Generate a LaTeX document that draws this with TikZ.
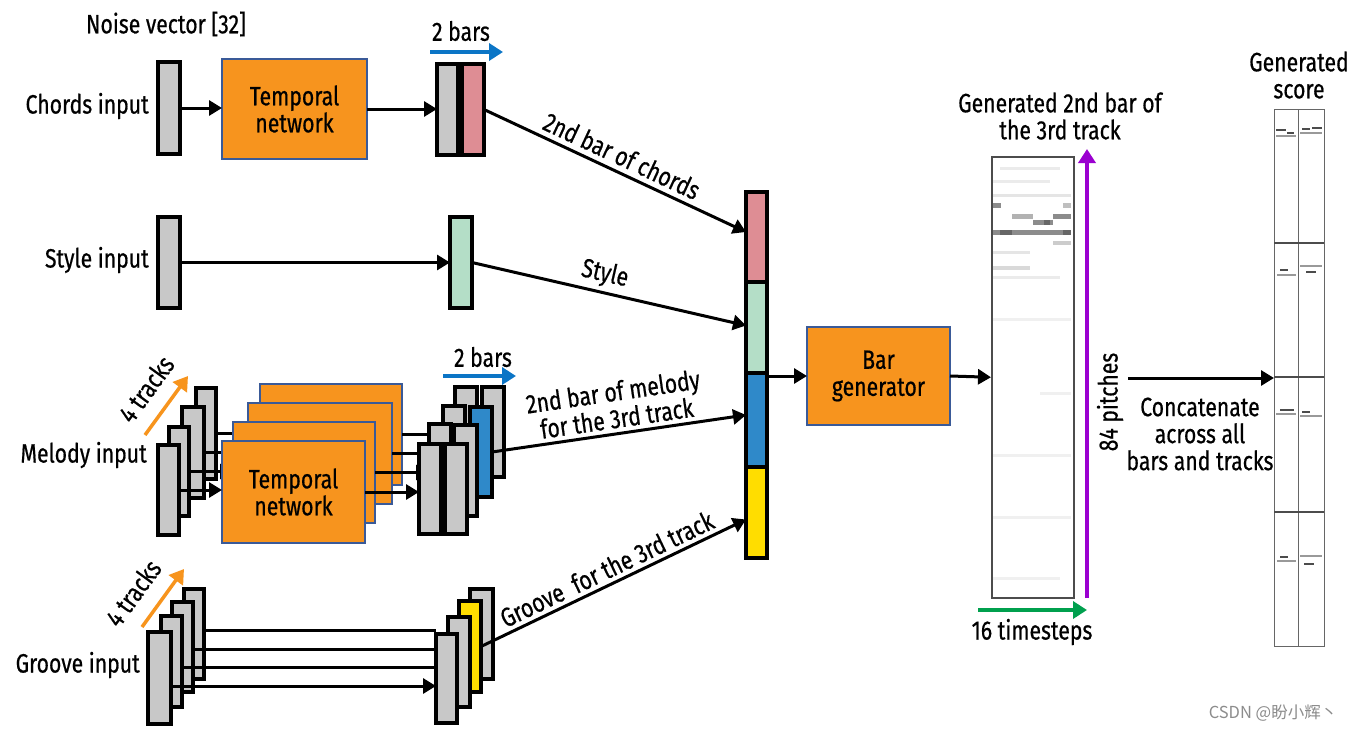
\documentclass[tikz,border=0pt]{standalone}
\usepackage{fontspec}
\setmainfont{Fira Sans}[FakeStretch=0.8,FakeBold=0.6]
\newfontfamily\cjkfont{Noto Sans CJK SC}
\usetikzlibrary{arrows.meta,calc}
\definecolor{orangeF}{HTML}{F7941E}
\definecolor{blueB}{HTML}{3A5A98}
\definecolor{boxgray}{HTML}{C8C8C8}
\definecolor{pinkF}{HTML}{DE8D94}
\definecolor{greenF}{HTML}{B4DEC7}
\definecolor{blueF}{HTML}{2F89C9}
\definecolor{yellowF}{HTML}{FFDD00}
\definecolor{arrblue}{HTML}{0B75C6}
\definecolor{purp}{HTML}{9B00D0}
\definecolor{grnarr}{HTML}{00A04E}
\definecolor{orgarr}{HTML}{F7941D}
\newcommand\mkbox[6]{\node[#1, minimum width={(#5-#3)*1pt}, minimum height={(#6-#4)*1pt}] (#2) at (#3,#4) {};}
\newcommand\mkboxt[7]{\node[#1, minimum width={(#5-#3)*1pt}, minimum height={(#6-#4)*1pt}] (#2) at (#3,#4) {#7};}
\tikzset{
  txt/.style={font=\fontsize{26.5}{27}\selectfont, align=center, inner sep=2pt},
  ln/.style={line width=3pt},
  arr/.style={line width=3pt, -{Triangle[length=13pt,width=15pt]}},
  bx/.style={draw=black, line width=3.5pt, anchor=north west, inner sep=0pt, outer sep=0pt},
  gbox/.style={bx, fill=boxgray},
  pbox/.style={bx, fill=pinkF},
  sbox/.style={bx, fill=greenF},
  bbox/.style={bx, fill=blueF},
  ybox/.style={bx, fill=yellowF},
  tnbox/.style={draw=blueB, line width=2.5pt, fill=orangeF, anchor=north west, outer sep=0pt, txt},
  colarr/.style={line width=3.5pt, -{Triangle[length=14pt,width=17pt]}},
  rollmark/.style={line width=1.2pt, draw=black!70}
}
\begin{document}
\begin{tikzpicture}[x=1pt,y=-1pt]
\useasboundingbox (0,0) rectangle (1355,731);
\fill[white] (0,0) rectangle (1355,731);

% ---------------- chords ----------------
\node[txt] (noise) at (166,24) {Noise vector [32]};
\node[txt, anchor=east] (chLab) at (151,106) {Chords input};
\mkbox{gbox}{chIn}{158}{62}{180}{154}
\mkboxt{tnbox}{chTN}{222}{59}{367}{159}{Temporal\\network}
\mkbox{gbox}{chO1}{437}{64}{458}{155}
\mkbox{pbox}{chO2}{462}{64}{484}{155}
\draw[arr] (chIn.east) -- (chIn.east -| chTN.west);
\draw[arr] (chTN.east) -- (chTN.east -| chO1.west);
\node[txt] (bars1) at (461,31) {2 bars};
\coordinate (b1s) at (430,52);
\coordinate (b1e) at (503,52);
\draw[colarr, draw=arrblue] (b1s) -- (b1e);

% ---------------- style ----------------
\node[txt, anchor=east] (stLab) at (151,260) {Style input};
\mkbox{gbox}{stIn}{158}{217}{180}{308}
\mkbox{sbox}{stO}{450}{217}{472}{308}
\draw[arr] (stIn.east) -- (stIn.east -| stO.west);

% ---------------- melody ----------------
\node[txt, anchor=east] (meLab) at (149,455) {Melody input};
% layer 3
\mkbox{gbox}{mi3}{196}{388}{216}{479}
\mkbox{tnbox}{mt3}{260}{384}{402}{485}
\draw[arr] (mi3.east) -- (mi3.east -| mt3.west);
\mkbox{gbox}{ma3}{455}{387}{477}{478}
\mkbox{gbox}{mb3}{482}{387}{504}{477}
\draw[arr] (mt3.east) -- (mt3.east -| ma3.west);
% layer 2
\mkbox{gbox}{mi2}{182}{407}{204}{498}
\mkbox{tnbox}{mt2}{248}{403}{392}{504}
\draw[arr] (mi2.east) -- (mi2.east -| mt2.west);
\mkbox{gbox}{ma2}{443}{406}{465}{497}
\mkbox{bbox}{mb2}{470}{407}{492}{497}
\draw[arr] (mt2.east) -- (mt2.east -| ma2.west);
% layer 1
\mkbox{gbox}{mi1}{169}{427}{189}{516}
\mkbox{tnbox}{mt1}{233}{422}{375}{523}
\draw[arr] (mi1.east) -- (mi1.east -| mt1.west);
\mkbox{gbox}{ma1}{429}{424}{451}{515}
\mkbox{gbox}{mb1}{454}{425}{477}{516}
\draw[arr] (mt1.east) -- (mt1.east -| ma1.west);
% layer 0
\mkbox{gbox}{mi0}{158}{445}{179}{535}
\mkboxt{tnbox}{mt0}{222}{441}{365}{543}{Temporal\\network}
\draw[arr] (mi0.east) -- (mi0.east -| mt0.west);
\mkbox{gbox}{ma0}{419}{444}{441}{534}
\mkbox{gbox}{mb0}{445}{444}{467}{534}
\draw[arr] (mt0.east) -- (mt0.east -| ma0.west);
\node[txt] (bars2) at (483,357) {2 bars};
\coordinate (b2s) at (443,376);
\coordinate (b2e) at (516,376);
\draw[colarr, draw=arrblue] (b2s) -- (b2e);
\coordinate (mt4s) at (145,435);
\coordinate (mt4e) at (188,376);
\draw[colarr, draw=orgarr] (mt4s) -- (mt4e);
\node[txt, rotate=54] (me4) at (146,389) {4 tracks};

% ---------------- groove ----------------
\node[txt, anchor=east] (grLab) at (142,665) {Groove input};
\mkbox{gbox}{go3}{470}{589}{493}{679}
\mkbox{ybox}{go2}{459}{601}{481}{692}
\mkbox{gbox}{go1}{448}{617}{470}{707}
\mkbox{gbox}{go0}{436}{634}{457}{723}
\mkbox{gbox}{gi3}{184}{589}{204}{679}
\coordinate (g3s) at ([yshift=4pt]gi3.east);
\draw[ln] (g3s) -- (g3s -| go0.west);
\mkbox{gbox}{gi2}{172}{602}{193}{692}
\coordinate (g2s) at ([yshift=-2pt]gi2.east);
\draw[ln] (g2s) -- (g2s -| go0.west);
\mkbox{gbox}{gi1}{161}{616}{182}{707}
\coordinate (g1s) at ([yshift=-5.5pt]gi1.east);
\draw[ln] (g1s) -- (g1s -| go0.west);
\mkbox{gbox}{gi0}{148}{632}{171}{724}
\coordinate (g0s) at ([yshift=-8pt]gi0.east);
\draw[arr] (g0s) -- (g0s -| go0.west);
\coordinate (gt4s) at (142,627);
\coordinate (gt4e) at (184,569);
\draw[colarr, draw=orgarr] (gt4s) -- (gt4e);
\node[txt, rotate=54] (gr4) at (133,593) {4 tracks};

% ---------------- column ----------------
\mkbox{pbox}{bc1}{746}{192}{767}{282}
\mkbox{sbox}{bc2}{746}{282}{767}{373}
\mkbox{bbox}{bc3}{746}{373}{767}{467}
\mkbox{ybox}{bc4}{746}{467}{767}{558}

\draw[arr] (chO2.east) -- ([yshift=5pt]bc1.west)
  node[pos=0.5, sloped, above=3pt, txt] (lchords) {2nd bar of chords};
\draw[arr] (stO.east) -- ([yshift=2pt]bc2.west)
  node[pos=0.47, sloped, above=2pt, txt] (lstyle) {Style};
\draw[arr] (mb2.east) -- ([yshift=5pt]bc3.west)
  node[pos=0.5, sloped, above=2pt, txt] (lmel) {2nd bar of melody\\for the 3rd track};
\draw[arr] (go2.east) -- ([yshift=-7pt]bc4.west)
  node[pos=0.5, sloped, above=2pt, txt] (lgr) {Groove\ \ for the 3rd track};

% ---------------- bar generator ----------------
\mkboxt{tnbox}{bg}{807}{327}{950}{425}{Bar\\generator}
\draw[arr] (bg.west -| bc3.east) -- (bg.west);
\node[anchor=north west, draw=black!70, line width=1.5pt, minimum width=82pt, minimum height=441pt, inner sep=0pt] (gb) at (991,156) {};
\draw[arr] (bg.east) -- (gb.west);
% piano roll of generated bar
\begin{scope}
\fill[black!45] (993,203) rectangle (1001,208);
\fill[black!25] (1063,203) rectangle (1071,208);
\fill[black!30] (1012,214) rectangle (1033,219);
\fill[black!45] (1053,214) rectangle (1071,219);
\fill[black!45] (1033,220) rectangle (1053,225);
\fill[black!60] (1044,220) rectangle (1050,225);
\fill[black!45] (993,230) rectangle (1071,235);
\fill[black!60] (1000,230) rectangle (1012,235);
\fill[black!60] (1063,230) rectangle (1071,235);
\fill[black!20] (1053,241) rectangle (1071,245);
\fill[black!10] (993,251) rectangle (1030,254);
\fill[black!15] (993,266) rectangle (1030,270);
\fill[black!8] (993,276) rectangle (1060,279);
\fill[black!8] (1000,167) rectangle (1060,170);
\fill[black!8] (993,180) rectangle (1050,183);
\fill[black!10] (993,194) rectangle (1071,197);
\fill[black!6] (993,318) rectangle (1071,321);
\fill[black!6] (1040,392) rectangle (1071,395);
\fill[black!6] (993,454) rectangle (1071,457);
\fill[black!6] (993,516) rectangle (1071,519);
\fill[black!6] (993,577) rectangle (1060,580);
\end{scope}
\node[txt] (gbLab) at (1060,116) {Generated 2nd bar of\\the 3rd track};
\coordinate (pbot) at (1087,598);
\coordinate (ptop) at (1087,149);
\draw[colarr, draw=purp] (pbot) -- (ptop);
\node[txt, rotate=90] (pitch) at (1110,402) {84 pitches};
\coordinate (tls) at (978,610);
\coordinate (tle) at (1087,610);
\draw[colarr, draw=grnarr] (tls) -- (tle);
\node[txt] (tsLab) at (1032,632) {16 timesteps};

% ---------------- score ----------------
\node[anchor=north west, draw=black!60, line width=1pt, minimum width=50pt, minimum height=537pt, inner sep=0pt] (sc) at (1274,109) {};
\coordinate (cst) at (1128,378);
\draw[arr] (cst) -- (sc.west);
\node[txt] (catLab) at (1200,434) {Concatenate\\across all\\bars and tracks};
\node[txt] (scLab) at (1299,75) {Generated\\score};
\draw[draw=black!60, line width=1pt] (sc.north) ++(-1,0) coordinate (scd1) -- (scd1 |- sc.south);
\draw[draw=black!70, line width=1.2pt] (1274,243) -- (1324,243);
\draw[draw=black!70, line width=1.2pt] (1274,377) -- (1324,377);
\draw[draw=black!70, line width=1.2pt] (1274,512) -- (1324,512);
% marks
\draw[rollmark] (1276,130) -- (1286,130); \draw[rollmark] (1287,133) -- (1294,133);
\draw[rollmark, draw=black!40] (1276,136) -- (1296,136);
\draw[rollmark] (1302,129) -- (1310,129); \draw[rollmark] (1312,128) -- (1322,128);
\draw[rollmark, draw=black!40] (1300,133) -- (1322,133);
\draw[rollmark] (1280,270) -- (1288,270); \draw[rollmark, draw=black!40] (1277,275) -- (1296,275);
\draw[rollmark] (1306,272) -- (1316,272); \draw[rollmark, draw=black!40] (1300,266) -- (1322,266);
\draw[rollmark] (1280,410) -- (1294,410); \draw[rollmark, draw=black!40] (1276,414) -- (1296,414);
\draw[rollmark] (1302,412) -- (1310,412); \draw[rollmark, draw=black!40] (1300,416) -- (1322,416);
\draw[rollmark] (1280,557) -- (1288,557); \draw[rollmark, draw=black!40] (1277,561) -- (1296,561);
\draw[rollmark] (1304,564) -- (1314,564); \draw[rollmark, draw=black!40] (1300,556) -- (1322,556);

% watermark
\node[font=\cjkfont\fontsize{16.5}{18}\selectfont, text=black!45, inner sep=0pt] (wm) at (1273,713) {CSDN @盼小辉丶};
\end{tikzpicture}
\end{document}
